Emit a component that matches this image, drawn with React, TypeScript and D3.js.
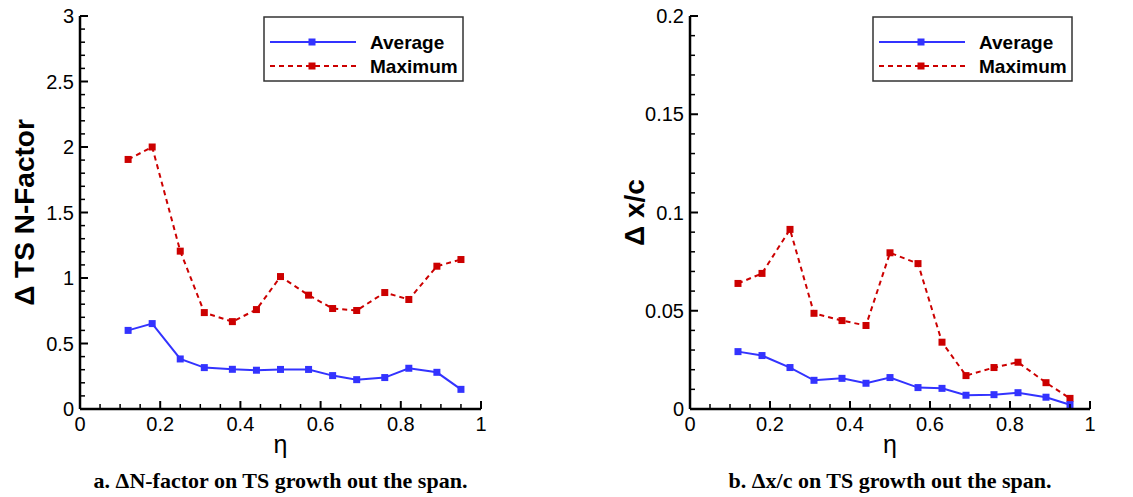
import React from "react";
import * as d3 from "d3";

const eta = [0.12, 0.18, 0.25, 0.31, 0.38, 0.44, 0.5, 0.57, 0.63, 0.69, 0.76, 0.82, 0.89, 0.95];
const nAverage = [0.6, 0.652, 0.382, 0.316, 0.303, 0.296, 0.302, 0.302, 0.255, 0.224, 0.24, 0.311, 0.28, 0.15];
const nMaximum = [1.905, 2.0, 1.205, 0.736, 0.667, 0.759, 1.011, 0.869, 0.767, 0.752, 0.889, 0.836, 1.09, 1.141];
const xcAverage = [0.0292, 0.0272, 0.0211, 0.0146, 0.0156, 0.0131, 0.016, 0.0109, 0.0105, 0.007, 0.0073, 0.0083, 0.006, 0.0022];
const xcMaximum = [0.0639, 0.069, 0.0914, 0.0487, 0.045, 0.0425, 0.0795, 0.074, 0.034, 0.017, 0.0211, 0.0238, 0.0134, 0.0054];
const xTicks = [0, 0.2, 0.4, 0.6, 0.8, 1];
const nTicks = [0, 0.5, 1, 1.5, 2, 2.5, 3];
const xcTicks = [0, 0.05, 0.1, 0.15, 0.2];
const seriesNames = ["Average", "Maximum"];

const BLUE = "#3333ff";
const RED = "#cc0000";
const SANS = "'Liberation Sans', Arial, sans-serif";
const SERIF = "'Liberation Serif', 'Times New Roman', serif";

type PanelProps = {
  left: number;
  right: number;
  top: number;
  bottom: number;
  yMax: number;
  yTicks: number[];
  yMinor: number;
  avg: number[];
  max: number[];
  yTitle: string;
  yTitleX: number;
  caption: string;
  legendX: number;
};

function Panel(p: PanelProps) {
  const x = d3.scaleLinear().domain([0, 1]).range([p.left, p.right]);
  const y = d3.scaleLinear().domain([0, p.yMax]).range([p.bottom, p.top]);
  const line = d3
    .line<number>()
    .x((_, i) => x(eta[i]))
    .y((d) => y(d));
  const xMinor = d3.range(0, 1.0001, 0.05).filter((v) => Math.abs(v / 0.2 - Math.round(v / 0.2)) > 1e-6);
  const yMinorTicks = d3
    .range(0, p.yMax + 1e-9, p.yMinor)
    .filter((v) => !p.yTicks.some((t) => Math.abs(t - v) < 1e-9));
  const ms = 7;
  const cx = (p.left + p.right) / 2;
  const lg = { x: p.legendX, y: 17, w: 199, h: 64 };
  return (
    <g>
      {/* data */}
      <path d={line(p.max) || ""} fill="none" stroke={RED} strokeWidth={2} strokeDasharray="5,4" />
      <path d={line(p.avg) || ""} fill="none" stroke={BLUE} strokeWidth={2} />
      {p.max.map((d, i) => (
        <rect key={"m" + i} x={x(eta[i]) - ms / 2} y={y(d) - ms / 2} width={ms} height={ms} fill={RED} />
      ))}
      {p.avg.map((d, i) => (
        <rect key={"a" + i} x={x(eta[i]) - ms / 2} y={y(d) - ms / 2} width={ms} height={ms} fill={BLUE} />
      ))}
      {/* axes */}
      <line x1={p.left} x2={p.right} y1={p.bottom} y2={p.bottom} stroke="#000" strokeWidth={2.5} />
      <line x1={p.left} x2={p.left} y1={p.top} y2={p.bottom} stroke="#000" strokeWidth={2.5} />
      {xTicks.map((t) => (
        <g key={"xt" + t}>
          <line x1={x(t)} x2={x(t)} y1={p.bottom} y2={p.bottom - 8} stroke="#000" strokeWidth={2} />
          <text x={x(t)} y={p.bottom + 22} textAnchor="middle" fontFamily={SANS} fontSize={20}>
            {t}
          </text>
        </g>
      ))}
      {xMinor.map((t) => (
        <line key={"xm" + t} x1={x(t)} x2={x(t)} y1={p.bottom} y2={p.bottom - 5} stroke="#000" strokeWidth={1.5} />
      ))}
      {p.yTicks.map((t) => (
        <g key={"yt" + t}>
          <line x1={p.left} x2={p.left + 8} y1={y(t)} y2={y(t)} stroke="#000" strokeWidth={2} />
          <text x={p.left - 6} y={y(t) + 7} textAnchor="end" fontFamily={SANS} fontSize={20}>
            {String(t)}
          </text>
        </g>
      ))}
      {yMinorTicks.map((t) => (
        <line key={"ym" + t} x1={p.left} x2={p.left + 5} y1={y(t)} y2={y(t)} stroke="#000" strokeWidth={1.5} />
      ))}
      {/* titles */}
      <text x={cx} y={p.bottom + 44} textAnchor="middle" fontFamily={SANS} fontSize={25}>
        η
      </text>
      <text
        transform={`translate(${p.yTitleX},${(p.top + p.bottom) / 2}) rotate(-90)`}
        textAnchor="middle"
        fontFamily={SANS}
        fontSize={28}
        fontWeight="bold"
      >
        {p.yTitle}
      </text>
      <text x={cx} y={488} textAnchor="middle" fontFamily={SERIF} fontSize={22} fontWeight="bold">
        {p.caption}
      </text>
      {/* legend */}
      <rect x={lg.x} y={lg.y} width={lg.w} height={lg.h} fill="#fff" stroke="#333" strokeWidth={1.5} />
      {seriesNames.map((name, i) => {
        const ly = lg.y + 25 + i * 24;
        const color = i === 0 ? BLUE : RED;
        return (
          <g key={name}>
            <line
              x1={lg.x + 6}
              x2={lg.x + 92}
              y1={ly}
              y2={ly}
              stroke={color}
              strokeWidth={2}
              strokeDasharray={i === 0 ? undefined : "5,4"}
            />
            <rect x={lg.x + 48 - ms / 2} y={ly - ms / 2} width={ms} height={ms} fill={color} />
            <text x={lg.x + 106} y={ly + 7} fontFamily={SANS} fontSize={19} fontWeight="bold">
              {name}
            </text>
          </g>
        );
      })}
    </g>
  );
}

export default function App() {
  return (
    <svg width={1133} height={497} style={{ position: "absolute", left: 0, top: 0, background: "#fff" }}>
      <Panel
        left={80}
        right={481}
        top={16}
        bottom={409}
        yMax={3}
        yTicks={nTicks}
        yMinor={0.1}
        avg={nAverage}
        max={nMaximum}
        yTitle="Δ TS N-Factor"
        yTitleX={34}
        caption="a. ΔN-factor on TS growth out the span."
        legendX={264}
      />
      <Panel
        left={690}
        right={1090}
        top={16}
        bottom={409}
        yMax={0.2}
        yTicks={xcTicks}
        yMinor={0.01}
        avg={xcAverage}
        max={xcMaximum}
        yTitle="Δ x/c"
        yTitleX={644}
        caption="b. Δx/c on TS growth out the span."
        legendX={873}
      />
    </svg>
  );
}
